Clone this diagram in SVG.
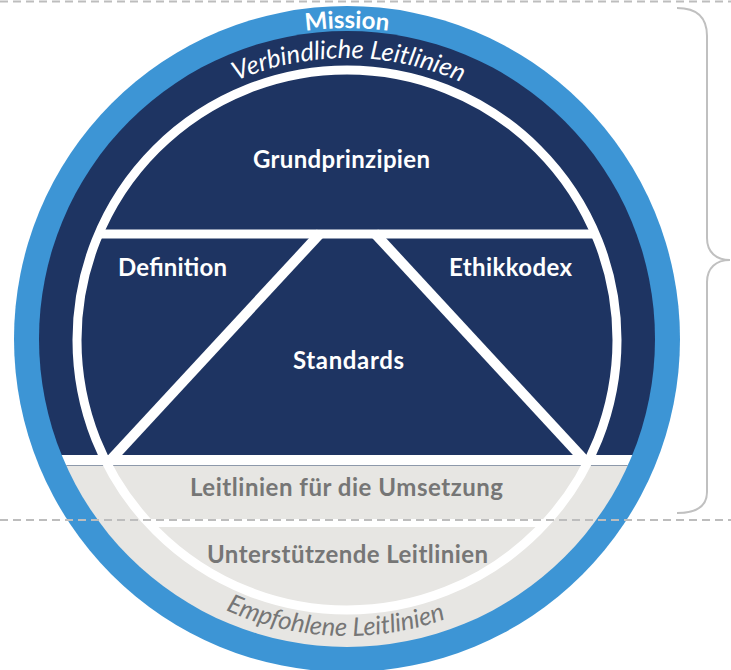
<svg xmlns="http://www.w3.org/2000/svg" width="731" height="670" viewBox="0 0 731 670">
  <style>
    .lbl { font-family: Lato, "Open Sans", "Liberation Sans", sans-serif; font-weight: 700; font-size: 24px; text-anchor: middle; }
    .w { fill: #ffffff; }
    .g { fill: #767676; }
    .it { font-family: Lato, "Open Sans", "Liberation Sans", sans-serif; font-style: italic; font-weight: 400; font-size: 25.5px; }
    .wl { stroke: #ffffff; fill: none; }
    .dash { stroke: #bdbdbd; stroke-width: 2; stroke-dasharray: 8 5; fill: none; }
  </style>
  <defs>
    <clipPath id="disk">
      <circle cx="347" cy="339" r="308"/>
    </clipPath>
    <path id="arcMission" d="M 36 339 A 311 311 0 0 1 658 339"/>
    <path id="arcTop" d="M 66 339 A 281 281 0 0 1 628 339"/>
    <path id="arcBottom" d="M 50 339 A 297 297 0 0 0 644 339"/>
  </defs>

  <g id="background-lines">
    <line class="dash" x1="0" y1="1.5" x2="731" y2="1.5"/>
  </g>

  <g id="mission">
    <circle cx="347" cy="339" r="333" fill="#3d95d5"/>
    <text class="lbl w"><textPath href="#arcMission" startOffset="50%">Mission</textPath></text>
  </g>

  <g id="verbindliche-leitlinien" clip-path="url(#disk)">
    <rect x="0" y="0" width="731" height="455" fill="#1e3462"/>
    <rect x="0" y="455" width="731" height="10" fill="#ffffff"/>
    <rect x="0" y="465" width="731" height="210" fill="#e7e6e3"/>
    <line x1="0" y1="465.5" x2="731" y2="465.5" stroke="#8d99aa" stroke-width="1"/>
  </g>
  <g id="verbindliche-label">
    <text class="it w"><textPath href="#arcTop" startOffset="50.2%" text-anchor="middle">Verbindliche Leitlinien</textPath></text>
  </g>

  <g id="inner-structure">
    <circle class="wl" cx="347" cy="340" r="270" stroke-width="9"/>
    <line class="wl" x1="96" y1="234" x2="598" y2="234" stroke-width="9"/>
    <line class="wl" x1="147" y1="523" x2="547" y2="523" stroke-width="8"/>
    <line class="wl" x1="320.6" y1="233" x2="111.5" y2="459" stroke-width="10"/>
    <line class="wl" x1="374.4" y1="233" x2="583.5" y2="459" stroke-width="10"/>
  </g>

  <g id="grundprinzipien">
    <text class="lbl w" x="341.5" y="168" textLength="177">Grundprinzipien</text>
  </g>
  <g id="definition">
    <text class="lbl w" x="172.5" y="276" textLength="109">Definition</text>
  </g>
  <g id="ethikkodex">
    <text class="lbl w" x="510.5" y="276" textLength="123">Ethikkodex</text>
  </g>
  <g id="standards">
    <text class="lbl w" x="348.5" y="369" textLength="111">Standards</text>
  </g>
  <g id="leitlinien-umsetzung">
    <text class="lbl g" x="346.5" y="496" textLength="313">Leitlinien für die Umsetzung</text>
  </g>
  <g id="unterstuetzende-leitlinien">
    <text class="lbl g" x="347.5" y="563" textLength="281">Unterstützende Leitlinien</text>
  </g>
  <g id="empfohlene-leitlinien">
    <text class="it g"><textPath href="#arcBottom" startOffset="48.7%" text-anchor="middle">Empfohlene Leitlinien</textPath></text>
  </g>

  <g id="connectors">
    <line class="dash" x1="0" y1="520" x2="731" y2="520"/>
    <path d="M 677 8 C 697 8 707 18 707 36 L 707 238 C 707 252 716 260 730 260 C 716 260 707 268 707 282 L 707 492 C 707 506 697 513 677 513" fill="none" stroke="#c0c0c0" stroke-width="2"/>
  </g>
</svg>
